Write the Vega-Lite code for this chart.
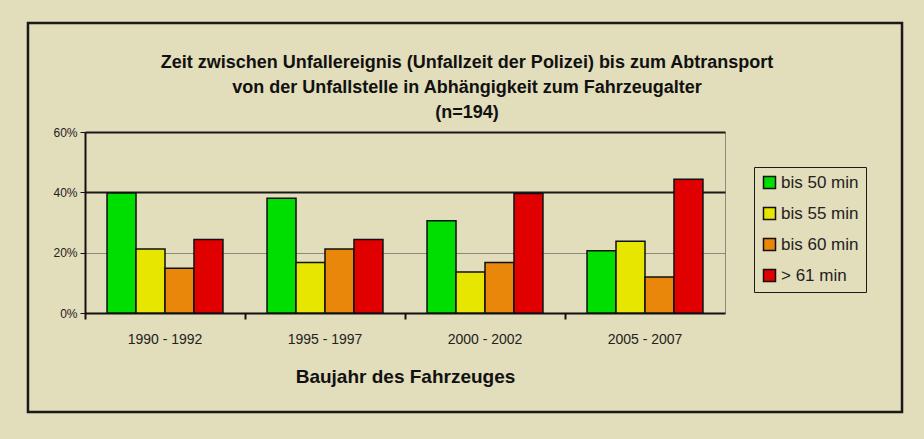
{
  "$schema": "https://vega.github.io/schema/vega-lite/v6.json",
  "width": 640,
  "height": 181,
  "autosize": {"type": "none"},
  "padding": {"left": 85, "top": 132, "right": 199, "bottom": 126},
  "background": "#E2DDBA",
  "config": {
    "font": "Liberation Sans, Arial",
    "view": {"stroke": "#8c8a7a", "strokeWidth": 1}
  },
  "title": {
    "text": ["Zeit zwischen Unfallereignis (Unfallzeit der Polizei)  bis zum Abtransport", "von der Unfallstelle in Abhängigkeit zum Fahrzeugalter", "(n=194)"],
    "font": "Liberation Sans, Arial",
    "fontSize": 18,
    "fontWeight": "bold",
    "color": "#111",
    "lineHeight": 25,
    "anchor": "middle",
    "frame": "group",
    "offset": 2,
    "dx": 62,
    "dy": 102
  },
  "data": {
    "values": [
      {"Baujahr": "1990 - 1992", "Zeit": "bis 50 min", "Anteil": 0.398},
      {"Baujahr": "1990 - 1992", "Zeit": "bis 55 min", "Anteil": 0.212},
      {"Baujahr": "1990 - 1992", "Zeit": "bis 60 min", "Anteil": 0.148},
      {"Baujahr": "1990 - 1992", "Zeit": "> 61 min", "Anteil": 0.244},
      {"Baujahr": "1995 - 1997", "Zeit": "bis 50 min", "Anteil": 0.380},
      {"Baujahr": "1995 - 1997", "Zeit": "bis 55 min", "Anteil": 0.167},
      {"Baujahr": "1995 - 1997", "Zeit": "bis 60 min", "Anteil": 0.212},
      {"Baujahr": "1995 - 1997", "Zeit": "> 61 min", "Anteil": 0.244},
      {"Baujahr": "2000 - 2002", "Zeit": "bis 50 min", "Anteil": 0.306},
      {"Baujahr": "2000 - 2002", "Zeit": "bis 55 min", "Anteil": 0.136},
      {"Baujahr": "2000 - 2002", "Zeit": "bis 60 min", "Anteil": 0.167},
      {"Baujahr": "2000 - 2002", "Zeit": "> 61 min", "Anteil": 0.396},
      {"Baujahr": "2005 - 2007", "Zeit": "bis 50 min", "Anteil": 0.206},
      {"Baujahr": "2005 - 2007", "Zeit": "bis 55 min", "Anteil": 0.238},
      {"Baujahr": "2005 - 2007", "Zeit": "bis 60 min", "Anteil": 0.119},
      {"Baujahr": "2005 - 2007", "Zeit": "> 61 min", "Anteil": 0.443}
    ]
  },
  "layer": [
    {
      "mark": {"type": "bar", "stroke": "#111", "strokeWidth": 1.5},
      "encoding": {
        "x": {
          "field": "Baujahr",
          "type": "nominal",
          "sort": null,
          "scale": {"paddingInner": 0, "paddingOuter": 0},
          "axis": {
            "orient": "bottom",
            "title": "Baujahr des Fahrzeuges",
            "titleFontSize": 19,
            "titleFontWeight": "bold",
            "titleColor": "#111",
            "titlePadding": 21,
            "labelAngle": 0,
            "labelFontSize": 14,
            "labelColor": "#222",
            "labelPadding": 19,
            "ticks": false,
            "tickSize": 0,
            "domainColor": "#111",
            "domainWidth": 2
          }
        },
        "xOffset": {
          "field": "Zeit",
          "type": "nominal",
          "sort": ["bis 50 min", "bis 55 min", "bis 60 min", "> 61 min"],
          "scale": {"paddingInner": 0, "paddingOuter": 0.76}
        },
        "y": {
          "field": "Anteil",
          "type": "quantitative",
          "scale": {"domain": [0, 0.6], "nice": false},
          "axis": {
            "title": null,
            "values": [0, 0.2, 0.4, 0.6],
            "format": ".0%",
            "labelFontSize": 12,
            "labelColor": "#222",
            "labelPadding": 3,
            "tickSize": 5,
            "tickColor": "#111",
            "domainColor": "#111",
            "domainWidth": 2,
            "grid": true,
            "gridColor": {"condition": {"test": "datum.value > 0.3", "value": "#1a1a1a"}, "value": "#8c8a7a"},
            "gridWidth": {"condition": {"test": "datum.value > 0.3", "value": 2}, "value": 1},
            "gridOpacity": 1
          }
        },
        "color": {
          "field": "Zeit",
          "type": "nominal",
          "sort": ["bis 50 min", "bis 55 min", "bis 60 min", "> 61 min"],
          "scale": {
            "domain": ["bis 50 min", "bis 55 min", "bis 60 min", "> 61 min"],
            "range": ["#00DD00", "#E6E600", "#E8870A", "#E00000"]
          },
          "legend": {
            "title": null,
            "orient": "none",
            "legendX": 669,
            "legendY": 35,
            "strokeColor": "#1a1a1a",
            "padding": 7,
            "symbolType": "square",
            "symbolSize": 144,
            "symbolStrokeColor": "#111",
            "symbolStrokeWidth": 1.5,
            "symbolOpacity": 1,
            "labelFontSize": 17,
            "labelColor": "#222",
            "labelOffset": 3,
            "rowPadding": 12
          }
        }
      }
    },
    {
      "mark": {"type": "tick", "opacity": 0},
      "encoding": {
        "x": {
          "field": "Baujahr",
          "type": "nominal",
          "sort": null,
          "scale": {"paddingInner": 0, "paddingOuter": 0},
          "axis": {
            "orient": "bottom",
            "title": null,
            "labels": false,
            "domain": false,
            "bandPosition": 0,
            "ticks": true,
            "tickSize": 6,
            "tickWidth": 2,
            "tickColor": "#111"
          }
        }
      }
    },
    {
      "data": {"values": [{}]},
      "mark": {"type": "rect", "fill": null, "stroke": "#1a1a1a", "strokeWidth": 2.5},
      "encoding": {
        "x": {"datum": -0.0891, "type": "quantitative", "scale": {"domain": [0, 1], "nice": false, "zero": false}, "axis": null},
        "x2": {"datum": 1.2766},
        "y": {"datum": 1.6022, "type": "quantitative", "scale": {"domain": [0, 1], "nice": false, "zero": false}, "axis": null},
        "y2": {"datum": -0.547}
      }
    }
  ],
  "resolve": {"scale": {"x": "independent", "y": "independent"}, "axis": {"x": "independent", "y": "independent"}}
}
